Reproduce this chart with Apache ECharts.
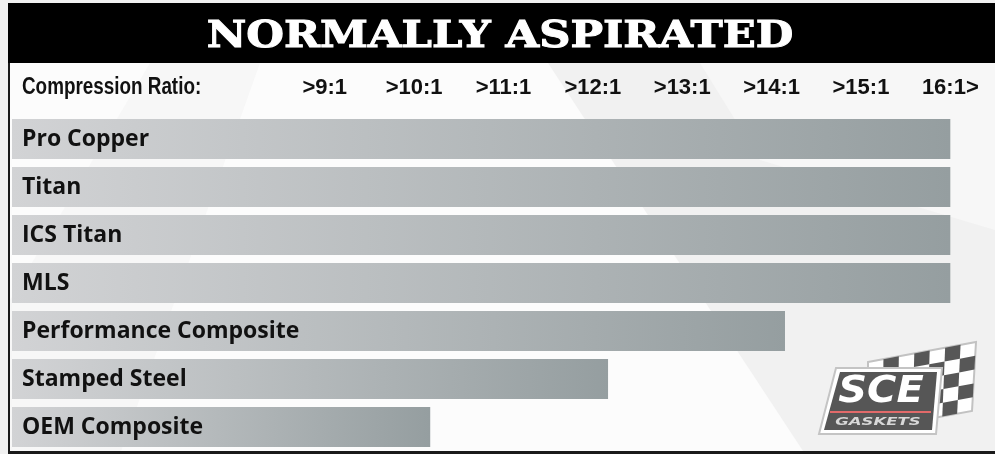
<!DOCTYPE html>
<html><head><meta charset="utf-8">
<script src="https://cdn.jsdelivr.net/npm/echarts@6/dist/echarts.min.js"></script>
<style>html,body{margin:0;padding:0;background:#f1f1f1}#c{width:995px;height:454px}</style>
</head><body><div id="c"></div>
<script>
// ---- data ----
const categories = ['Pro Copper', 'Titan', 'ICS Titan', 'MLS', 'Performance Composite', 'Stamped Steel', 'OEM Composite'];
const maxRatio = [16, 16, 16, 16, 14.15, 12.17, 10.18];
const tickValues = [9, 10, 11, 12, 13, 14, 15, 16];
const tickLabels = ['>9:1', '>10:1', '>11:1', '>12:1', '>13:1', '>14:1', '>15:1', '16:1>'];
const titleText = 'NORMALLY ASPIRATED';
const headerText = 'Compression Ratio:';

const chart = echarts.init(document.getElementById('c'), null, { renderer: 'canvas' });

// checkered flag cells (decoration)
function bilerp(q, u, v) {
  const [a, b, c, d] = q; // TL, TR, BR, BL
  const top = [a[0] + (b[0] - a[0]) * u, a[1] + (b[1] - a[1]) * u];
  const bot = [d[0] + (c[0] - d[0]) * u, d[1] + (c[1] - d[1]) * u];
  return [top[0] + (bot[0] - top[0]) * v, top[1] + (bot[1] - top[1]) * v];
}
const flagQuad = [[868, 362], [976, 342], [972, 411], [868, 430]];
const flagCols = 7, flagRows = 5;
const flagEls = [{
  type: 'polygon', z: 50,
  shape: { points: flagQuad },
  style: { fill: '#ffffff', stroke: '#c2c2c2', lineWidth: 2 }
}];
for (let i = 0; i < flagCols; i++) {
  for (let j = 0; j < flagRows; j++) {
    if ((i + j) % 2 === 1) {
      flagEls.push({
        type: 'polygon', z: 51,
        shape: { points: [
          bilerp(flagQuad, i / flagCols, j / flagRows),
          bilerp(flagQuad, (i + 1) / flagCols, j / flagRows),
          bilerp(flagQuad, (i + 1) / flagCols, (j + 1) / flagRows),
          bilerp(flagQuad, i / flagCols, (j + 1) / flagRows)
        ] },
        style: { fill: '#575757' }
      });
    }
  }
}

const option = {
  backgroundColor: '#f1f1f1',
  animation: false,
  grid: { left: 12, top: 115, width: 983, height: 336, containLabel: false, outerBoundsMode: 'none' },
  xAxis: {
    type: 'value', position: 'top', min: 5.5, max: 16.5, interval: 0.5,
    axisLine: { show: false }, axisTick: { show: false }, splitLine: { show: false },
    axisLabel: {
      margin: 16, fontSize: 22, fontWeight: 'bold', color: '#111', fontFamily: 'Liberation Sans',
      formatter: v => { const k = tickValues.indexOf(v); return k >= 0 ? tickLabels[k] : ''; }
    }
  },
  yAxis: {
    type: 'category', inverse: true, data: categories, z: 10,
    axisLine: { show: false }, axisTick: { show: false }, splitLine: { show: false },
    axisLabel: { inside: true, margin: 10, fontSize: 23, fontWeight: 'bold', color: '#111', fontFamily: 'Open Sans' }
  },
  series: [{
    type: 'bar', data: maxRatio, barWidth: 40, z: 2,
    itemStyle: {
      color: new echarts.graphic.LinearGradient(0, 0, 1, 0, [
        { offset: 0, color: '#d2d3d5' },
        { offset: 1, color: '#959ea0' }
      ])
    }
  }],
  graphic: { elements: [
    // background swooshes
    { type: 'polygon', z: -20, silent: true,
      shape: { points: [[10, 63], [548, 63], [805, 454], [10, 454]] },
      style: { fill: '#fcfcfc' } },
    { type: 'polygon', z: -19, silent: true,
      shape: { points: [[150, 63], [260, 63], [120, 454], [10, 454], [10, 300]] },
      style: { fill: '#f4f4f4', opacity: 0.6 } },
    { type: 'polygon', z: -19, silent: true,
      shape: { points: [[700, 63], [995, 63], [995, 230], [760, 160]] },
      style: { fill: '#f7f7f7' } },
    // header banner
    { type: 'rect', z: 20, shape: { x: 8, y: 3, width: 987, height: 60 }, style: { fill: '#000' } },
    { type: 'text', z: 21, x: 500, y: 37, scaleX: 1.17,
      style: { text: titleText, fill: '#fff', stroke: '#fff', lineWidth: 1,
        fontFamily: 'DejaVu Serif', fontWeight: 'bold', fontSize: 37,
        textAlign: 'center', textVerticalAlign: 'middle' } },
    // borders
    { type: 'rect', z: 20, shape: { x: 8, y: 63, width: 2, height: 391 }, style: { fill: '#1a1a1a' } },
    { type: 'rect', z: 20, shape: { x: 8, y: 451, width: 987, height: 3 }, style: { fill: '#1a1a1a' } },
    // header label
    { type: 'text', z: 21, x: 22, y: 88, scaleX: 0.82,
      style: { text: headerText, fill: '#111', fontFamily: 'Liberation Sans', fontWeight: 'bold', fontSize: 23,
        textAlign: 'left', textVerticalAlign: 'middle' } },
    // logo
    ...flagEls,
    { type: 'polygon', z: 60, shape: { points: [[836, 368], [942, 368], [936, 434], [819, 434]] },
      style: { fill: '#ffffff', stroke: '#c4c4c4', lineWidth: 2 } },
    { type: 'polygon', z: 61, shape: { points: [[840, 372], [937, 372], [932, 430], [824, 430]] },
      style: { fill: '#565656' } },
    { type: 'text', z: 62, x: 881, y: 392, scaleX: 1.08,
      style: { text: 'SCE', fill: '#fff', fontFamily: 'DejaVu Sans', fontStyle: 'italic', fontWeight: 'bold', fontSize: 37,
        textAlign: 'center', textVerticalAlign: 'middle' } },
    { type: 'line', z: 62, shape: { x1: 830, y1: 412, x2: 931, y2: 412 }, style: { stroke: '#e26a6a', lineWidth: 2 } },
    { type: 'text', z: 62, x: 878, y: 422, scaleX: 1.5,
      style: { text: 'GASKETS', fill: '#d8d8d8', fontFamily: 'DejaVu Sans', fontStyle: 'italic', fontWeight: 'bold', fontSize: 11,
        textAlign: 'center', textVerticalAlign: 'middle' } }
  ] }
};
chart.setOption(option);
</script>
</body></html>
